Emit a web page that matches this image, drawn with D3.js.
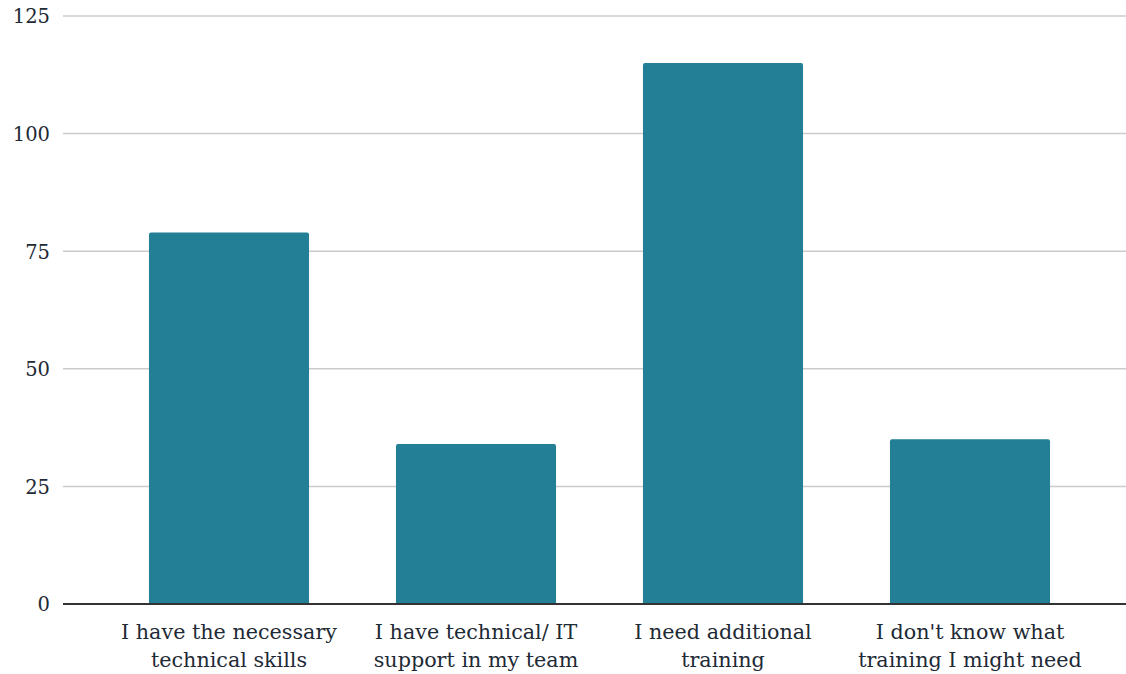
<!DOCTYPE html>
<meta charset="utf-8">
<style>
  body { margin: 0; background: #fff; }
  text { font-family: "DejaVu Serif", "Liberation Serif", serif; fill: #1e2a35; }
  .grid line { stroke: #cccccc; stroke-width: 1.5; }
  .axis .domain { display: none; }
  .bar { fill: #237f96; }
</style>
<svg width="1126" height="674"></svg>
<script src="https://d3js.org/d3.v7.min.js"></script>
<script>
  // chart values
  var categories = [
    ["I have the necessary", "technical skills"],
    ["I have technical/ IT", "support in my team"],
    ["I need additional", "training"],
    ["I don't know what", "training I might need"]
  ];
  var values = [79, 34, 115, 35];
  var yTicks = [0, 25, 50, 75, 100, 125];

  var svg = d3.select("svg");
  var gridLeft = 63, gridRight = 1126;

  var x = d3.scaleBand()
    .domain(d3.range(categories.length))
    .range([105.5, 1093.5])
    .paddingInner(0.352)
    .paddingOuter(0.176);

  var y = d3.scaleLinear()
    .domain([0, 125])
    .range([604, 16]);

  // gridlines
  svg.append("g")
    .attr("class", "grid")
    .selectAll("line")
    .data(yTicks.filter(function(d) { return d > 0; }))
    .join("line")
    .attr("x1", gridLeft)
    .attr("x2", gridRight)
    .attr("y1", function(d) { return y(d); })
    .attr("y2", function(d) { return y(d); });

  // y labels
  svg.append("g")
    .attr("class", "axis")
    .attr("transform", "translate(" + gridLeft + ",0)")
    .call(d3.axisLeft(y).tickValues(yTicks).tickSize(0).tickPadding(13))
    .selectAll("text")
    .style("font-size", "19.5px")
    .attr("dy", "0.35em");

  // bars with slightly rounded tops
  svg.append("g")
    .selectAll("path")
    .data(values)
    .join("path")
    .attr("class", "bar")
    .attr("d", function(d, i) {
      var x0 = x(i), w = x.bandwidth(), y0 = y(d), y1 = y(0), r = 2;
      return "M" + x0 + "," + y1 +
        "V" + (y0 + r) +
        "Q" + x0 + "," + y0 + " " + (x0 + r) + "," + y0 +
        "H" + (x0 + w - r) +
        "Q" + (x0 + w) + "," + y0 + " " + (x0 + w) + "," + (y0 + r) +
        "V" + y1 + "Z";
    });

  // baseline
  svg.append("line")
    .attr("x1", gridLeft)
    .attr("x2", gridRight)
    .attr("y1", y(0))
    .attr("y2", y(0))
    .attr("stroke", "#333")
    .attr("stroke-width", 2);

  // category labels
  var lab = svg.append("g")
    .selectAll("text")
    .data(categories)
    .join("text")
    .attr("text-anchor", "middle")
    .style("font-size", "20.7px")
    .attr("x", function(d, i) { return x(i) + x.bandwidth() / 2; })
    .attr("y", 639);

  lab.selectAll("tspan")
    .data(function(d) { return d; })
    .join("tspan")
    .attr("x", function() { return d3.select(this.parentNode).attr("x"); })
    .attr("dy", function(d, i) { return i === 0 ? 0 : 28; })
    .text(function(d) { return d; });
</script>
